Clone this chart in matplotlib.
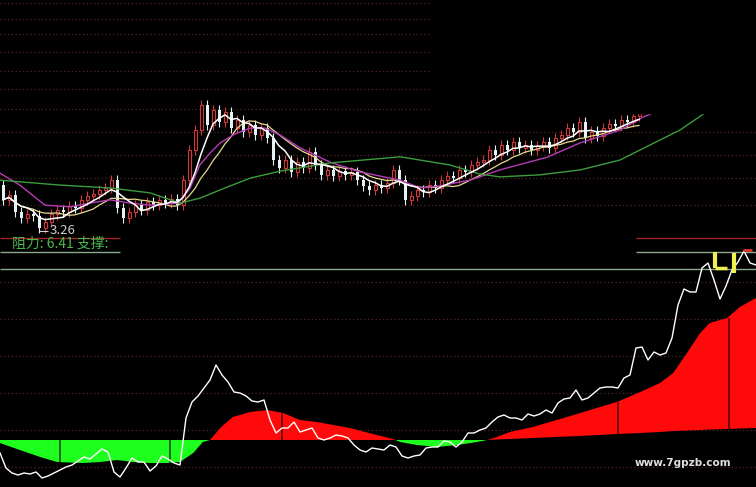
import numpy as np
import pandas as pd
import matplotlib
matplotlib.use('Agg')
import matplotlib.pyplot as plt
from matplotlib.patches import Rectangle

plt.rcParams['font.family'] = ['Noto Sans CJK SC', 'DejaVu Sans']

# ---- upper panel: daily candles (price) ----
first_open = 4.38
closes = [4.02, 4.14, 3.72, 3.58, 3.67, 3.63, 3.33, 3.48, 3.67, 3.77,
          3.72, 3.87, 3.82, 4.02, 4.11, 4.16, 4.26, 4.31, 4.50, 3.82,
          3.58, 3.72, 3.89, 3.77, 3.97, 3.89, 4.02, 3.94, 4.04, 3.89,
          4.50, 5.24, 5.72, 6.33, 5.85, 6.21, 5.92, 6.16, 5.77, 5.97,
          5.68, 5.85, 5.60, 5.77, 5.53, 4.99, 4.80, 4.99, 4.70, 4.94,
          4.80, 5.19, 4.87, 4.63, 4.75, 4.60, 4.72, 4.63, 4.70, 4.50,
          4.36, 4.26, 4.38, 4.31, 4.43, 4.75, 4.50, 4.02, 4.11, 4.26,
          4.21, 4.38, 4.31, 4.50, 4.60, 4.55, 4.75, 4.70, 4.87, 4.94,
          4.99, 5.24, 5.11, 5.36, 5.24, 5.43, 5.29, 5.36, 5.24, 5.33,
          5.43, 5.29, 5.53, 5.60, 5.77, 5.68, 5.92, 5.53, 5.68, 5.58,
          5.77, 5.87, 5.82, 5.97, 5.92, 6.07, 6.14]
wick = 0.13

# slow averages (day position, price)
ma20_x = [0, 3.3, 7.5, 11.7, 15, 18.3, 21.7, 25, 29.7, 31.7, 33.3, 35, 36.7, 39.2, 41.7,
          44.2, 46.7, 50, 55, 60, 66.7, 70, 73.3, 78.3, 83.3, 91.2, 96.7, 103.3, 107.2, 110]
ma20_v = [4.67, 4.38, 3.89, 3.85, 3.94, 4.02, 3.94, 3.89, 3.94, 4.31, 4.87, 5.16, 5.41, 5.63, 5.77,
          5.77, 5.60, 5.29, 4.94, 4.70, 4.50, 4.31, 4.36, 4.50, 4.75, 5.06, 5.41, 5.72, 6.04, 6.21]
ma60_x = [0, 10, 18.3, 25, 30, 33.3, 37.5, 41.7, 46.7, 55, 66.7, 75, 80, 83.3, 90,
          96.7, 103.3, 110, 113.3, 117.5, 120]
ma60_v = [4.50, 4.38, 4.31, 4.19, 3.94, 4.06, 4.31, 4.55, 4.72, 4.92, 5.07, 4.87, 4.65, 4.58, 4.63,
          4.75, 4.99, 5.48, 5.72, 6.14, 6.33]

price_grid = [8.82, 8.43, 8.07, 7.63, 7.16, 6.72, 6.24, 5.68, 5.11, 4.55, 3.89]
low_label = '3.26'
low_day = 6
resist_text = '阻力: 6.41 支撑:'

# ---- lower panel: oscillator ----
osc_line = [-13, -28, -33, -35, -33, -34, -32, -38, -36, -33,
            -30, -27, -25, -21, -17, -19, -14, -9, -12, -32,
            -37, -28, -18, -22, -22, -31, -26, -16, -19, -23,
            -25, 22, 38, 44, 52, 60, 75, 65, 58, 48,
            47, 44, 39, 38, 40, 20, 7, 12, 12, 18,
            8, 10, 12, 2, 0, 2, 5, 4, 2, -5,
            -10, -12, -8, -9, -10, -5, -7, -16, -18, -16,
            -15, -8, -7, -7, -1, -2, -7, -2, 7, 7,
            10, 12, 18, 23, 25, 22, 22, 20, 26, 24,
            26, 30, 27, 37, 41, 42, 50, 40, 42, 47,
            52, 53, 53, 52, 62, 65, 92, 93, 80, 88,
            85, 87, 102, 135, 151, 148, 148, 172, 177, 160,
            141, 154, 170, 178, 189, 177, 175]

fill_x = [0, 3.3, 6.7, 9.5, 13.8, 16.7, 19.5, 22.2, 25, 27.8, 30, 32.2, 33.8, 35, 36.7,
          38.8, 41.7, 44.5, 47.2, 50, 52.8, 58.3, 62.8, 65.5, 66.7, 69.5, 72.8, 76.2, 79.5, 81.2,
          82.8, 85, 88.8, 94.5, 100, 102.8, 106.7, 110, 112.2, 114.5, 116.7, 118.3, 121.2, 123.3, 126]
fill_top = [-3, -10, -17, -22, -23, -22, -20, -22, -23, -23, -22, -13, -2, 0, 12,
            23, 28, 30, 27, 20, 18, 12, 5, 1, -2, -5, -7, -5, -2, 0,
            3, 8, 13, 23, 33, 38, 48, 57, 67, 87, 107, 117, 122, 133, 142]
fill_base = [0, 0, 0, 0, 0, 0, 0, 0, 0, 0, 0, 0, 0, 0, 0,
             0, 0, 0, 0, 0, 0, 0, 0, 0, 0, 0, 0, 0, 0, 0,
             0.5, 1, 2, 3.5, 5, 6, 7, 8, 9, 9.5, 10, 10.5, 11, 11.5, 12]

sep_x = [10, 28.3, 47, 103, 121.5]
sep_lo = [0, 0, 0, 6, 11]
sep_hi = [-22, -23, 27, 38, 122]
sep_col = ['#1e4a1e', '#1e4a1e', '#5a0000', '#5a0000', '#5a0000']

osc_grid = [158, 121, 84, 47, 10, -27]
yellow_x = [119.2, 122.4]
yellow_lo = [172, 167]
yellow_hi = [188, 187]

fig = plt.figure(figsize=(7.56, 4.87), dpi=100, facecolor='black')
ax1 = fig.add_axes([0, 227 / 487, 1, 260 / 487])
ax2 = fig.add_axes([0, 0, 1, 257 / 487])
for ax in (ax1, ax2):
    ax.axis('off')
    ax.set_xlim(0, 126)
ax1.set_ylim(2.552, 8.896)
ax2.set_ylim(-47, 210)

# upper panel
ax1.hlines(price_grid, 0, 126, colors='#4e2626', linestyles=(0, (1, 2)), lw=0.9)
opens = [first_open] + closes[:-1]
days = np.arange(len(closes)) + 0.5
for d, o, c in zip(days, opens, closes):
    lo, hi = min(o, c), max(o, c)
    if c >= o:
        ax1.vlines(d, lo - wick, hi + wick, colors='#d03a3a', lw=0.8)
        ax1.bar(d, max(hi - lo, 0.02), bottom=lo, width=0.5, facecolor='black',
                edgecolor='#d03a3a', lw=0.8, zorder=3)
    else:
        ax1.vlines(d, lo - wick, hi + wick, colors='#e6f2f2', lw=0.8)
        ax1.bar(d, max(hi - lo, 0.02), bottom=lo, width=0.5, color='#e6f2f2', zorder=3)

s = pd.Series(closes)
ax1.plot(days, s.rolling(10, min_periods=1).mean(), color='#e6d890', lw=0.9, zorder=4)
ax1.plot(days, s.rolling(5, min_periods=1).mean(), color='white', lw=1.1, zorder=5)
ax1.plot(ma20_x, ma20_v, color='#b43cb4', lw=1.0, zorder=4)
ax1.plot(ma60_x, ma60_v, color='#3c9c3c', lw=1.0, zorder=4)

low_val = float(low_label)
ax1.hlines(low_val, low_day + 0.5, low_day + 2.0, colors='#d0d0d0', lw=0.8)
ax1.text(low_day + 2.2, low_val, low_label, color='#d0d0d0', fontsize=9.5, va='center', ha='left')

ax1.add_patch(Rectangle((0.569, 0.565), 0.431, 0.435, transform=ax1.transAxes,
                        color='black', zorder=10))

# lower panel
ax2.hlines(osc_grid, 0, 126, colors='#4e2626', linestyles=(0, (1, 2)), lw=0.9)
ax2.hlines([202, 202], [0, 106], [20, 126], colors='#a02222', lw=1.0)
ax2.hlines([188, 188], [0, 106], [20, 126], colors='#8aa88a', lw=1.0)
ax2.hlines(171, 0, 126, colors='#8aa88a', lw=1.0)
ax2.text(2, 196, resist_text, color='#4cb84c', fontsize=10, va='center', ha='left')

fx = np.array(fill_x)
ft = np.array(fill_top)
fb = np.array(fill_base)
ax2.fill_between(fx, fb, ft, where=ft >= fb, interpolate=True, color='#ff0a0a', lw=0, zorder=2)
ax2.fill_between(fx, fb, ft, where=ft <= fb, interpolate=True, color='#1eff1e', lw=0, zorder=2)
ax2.vlines(sep_x, sep_lo, sep_hi, colors=sep_col, lw=1.2, zorder=3)

ax2.plot(np.arange(len(osc_line)), osc_line, color='white', lw=1.0, zorder=4)

ax2.vlines(yellow_x, yellow_lo, yellow_hi, colors='#f0f050', lw=3, zorder=5)
ax2.hlines(172, yellow_x[0], yellow_x[0] + 2, colors='#f0f050', lw=2.5, zorder=5)
ax2.hlines(190, 123.8, 125.3, colors='#e03030', lw=2, zorder=5)

ax2.text(113.8, -23, 'www.7gpzb.com', color='#e0e0e0', fontsize=7.5, fontweight='bold',
         ha='center', va='center', family=['DejaVu Sans'])

fig.savefig('out.png', dpi=100, facecolor='black')
